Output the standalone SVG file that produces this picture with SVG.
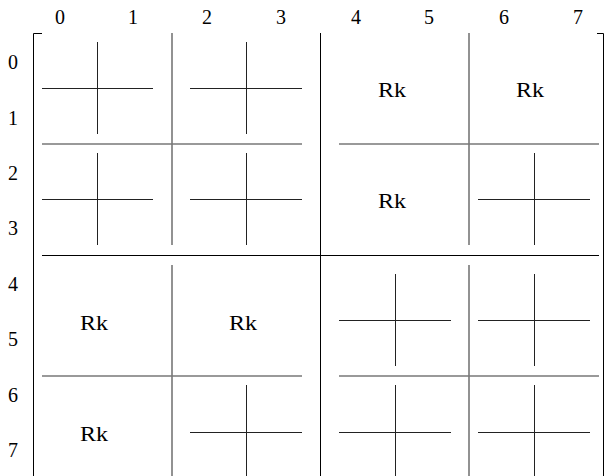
<svg xmlns="http://www.w3.org/2000/svg" width="604" height="476" viewBox="0 0 604 476">
<style>
text{fill:#000;text-anchor:middle}
.br{stroke:#000;stroke-width:1;fill:none}
.q{stroke:#000;stroke-width:1}
.d{stroke:#777;stroke-width:1.6}
.c{stroke:#222;stroke-width:1}
</style>
<rect width="604" height="476" fill="#fff"/>
<g id="col-labels" font-family="Liberation Serif, Times New Roman, DejaVu Serif, serif" font-size="20">
<text x="60" y="24">0</text><text x="133" y="24">1</text><text x="207" y="24">2</text><text x="281" y="24">3</text>
<text x="356" y="24">4</text><text x="429" y="24">5</text><text x="504" y="24">6</text><text x="578" y="24">7</text>
</g>
<g id="row-labels" font-family="Liberation Serif, Times New Roman, DejaVu Serif, serif" font-size="20">
<text x="13" y="69">0</text><text x="13" y="125">1</text><text x="13" y="180">2</text><text x="13" y="235">3</text>
<text x="13" y="291">4</text><text x="13" y="346">5</text><text x="13" y="402">6</text><text x="13" y="457">7</text>
</g>
<g id="brackets">
<path class="br" d="M42 33.5H33.5V476"/>
<path class="br" d="M597 33.5H603.5V476"/>
</g>
<g id="connectors">
<line class="q" x1="320.5" y1="33" x2="320.5" y2="476"/>
<line class="q" x1="42" y1="255.5" x2="599" y2="255.5"/>
<line class="d" x1="172" y1="33" x2="172" y2="245"/>
<line class="d" x1="42" y1="144" x2="302" y2="144"/>
<line class="d" x1="469" y1="33" x2="469" y2="245"/>
<line class="d" x1="339" y1="144" x2="599" y2="144"/>
<line class="d" x1="172" y1="265" x2="172" y2="476"/>
<line class="d" x1="42" y1="376" x2="302" y2="376"/>
<line class="d" x1="469" y1="265" x2="469" y2="476"/>
<line class="d" x1="339" y1="376" x2="599" y2="376"/>
</g>
<g id="cells" font-family="Liberation Serif, Times New Roman, DejaVu Serif, serif" font-size="20">
<g id="cell-00"><line class="c" x1="42" y1="88.5" x2="153" y2="88.5"/><line class="c" x1="97.5" y1="42" x2="97.5" y2="134"/></g>
<g id="cell-01"><line class="c" x1="190" y1="88.5" x2="302" y2="88.5"/><line class="c" x1="246.5" y1="42" x2="246.5" y2="134"/></g>
<g id="cell-02"><text x="392" y="97" textLength="28" lengthAdjust="spacingAndGlyphs">Rk</text></g>
<g id="cell-03"><text x="530" y="97" textLength="28" lengthAdjust="spacingAndGlyphs">Rk</text></g>
<g id="cell-10"><line class="c" x1="42" y1="199.5" x2="153" y2="199.5"/><line class="c" x1="97.5" y1="153" x2="97.5" y2="245"/></g>
<g id="cell-11"><line class="c" x1="190" y1="199.5" x2="302" y2="199.5"/><line class="c" x1="246.5" y1="153" x2="246.5" y2="245"/></g>
<g id="cell-12"><text x="392" y="208" textLength="28" lengthAdjust="spacingAndGlyphs">Rk</text></g>
<g id="cell-13"><line class="c" x1="478" y1="199.5" x2="590" y2="199.5"/><line class="c" x1="534.5" y1="153" x2="534.5" y2="245"/></g>
<g id="cell-20"><text x="94" y="330" textLength="28" lengthAdjust="spacingAndGlyphs">Rk</text></g>
<g id="cell-21"><text x="243" y="330" textLength="28" lengthAdjust="spacingAndGlyphs">Rk</text></g>
<g id="cell-22"><line class="c" x1="339" y1="320.5" x2="451" y2="320.5"/><line class="c" x1="395.5" y1="274" x2="395.5" y2="366"/></g>
<g id="cell-23"><line class="c" x1="478" y1="320.5" x2="590" y2="320.5"/><line class="c" x1="534.5" y1="274" x2="534.5" y2="366"/></g>
<g id="cell-30"><text x="94" y="441" textLength="28" lengthAdjust="spacingAndGlyphs">Rk</text></g>
<g id="cell-31"><line class="c" x1="190" y1="432.5" x2="302" y2="432.5"/><line class="c" x1="246.5" y1="385" x2="246.5" y2="476"/></g>
<g id="cell-32"><line class="c" x1="339" y1="432.5" x2="451" y2="432.5"/><line class="c" x1="395.5" y1="385" x2="395.5" y2="476"/></g>
<g id="cell-33"><line class="c" x1="478" y1="432.5" x2="590" y2="432.5"/><line class="c" x1="534.5" y1="385" x2="534.5" y2="476"/></g>
</g>
</svg>
